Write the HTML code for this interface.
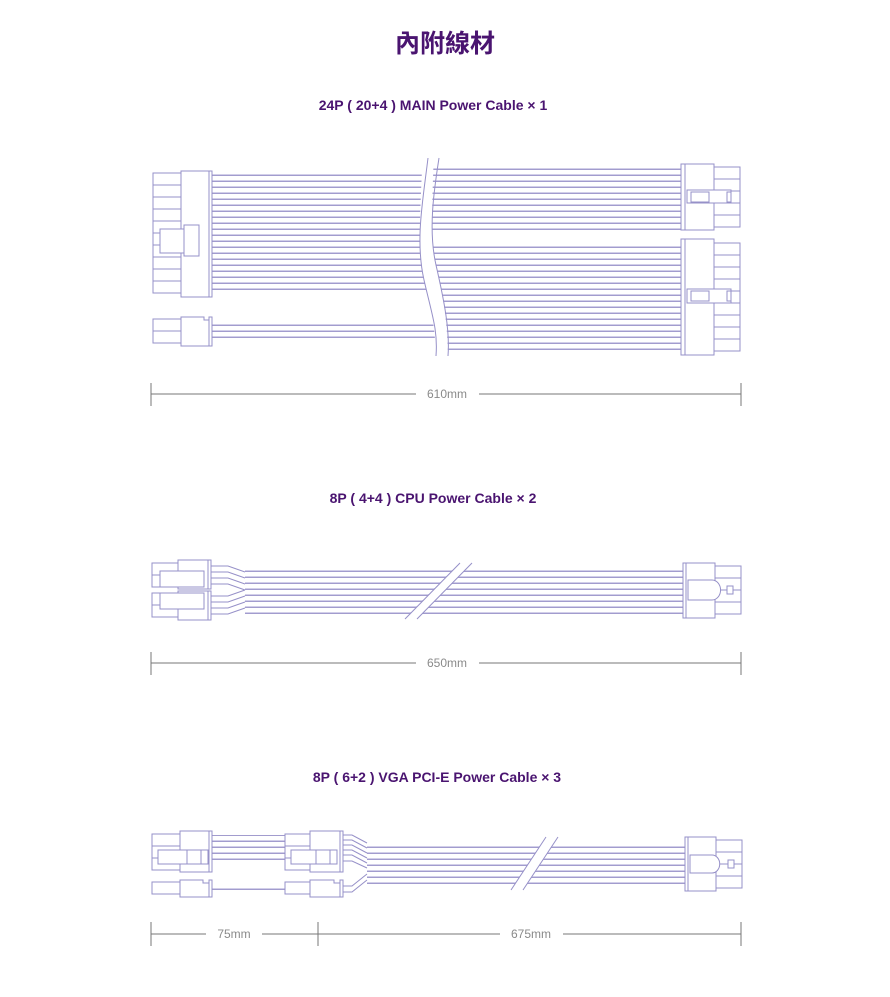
<!DOCTYPE html>
<html><head><meta charset="utf-8"><style>
html,body{margin:0;padding:0;background:#fff;width:890px;height:997px;overflow:hidden}
svg{display:block}
.t{font-family:"Liberation Sans","Noto Sans CJK TC",sans-serif;fill:#4a1470;font-weight:bold;text-anchor:middle}
.d{font-family:"Liberation Sans",sans-serif;fill:#8a8a8a;font-size:12px;text-anchor:middle}
.c{fill:#fff;stroke:#9690c8;stroke-width:1}
.w{stroke:#9690c8;stroke-width:1;fill:none}
.dim{stroke:#777;stroke-width:1}
</style></head><body>
<svg width="890" height="997" viewBox="0 0 890 997" xmlns="http://www.w3.org/2000/svg">
<defs>
<pattern id="wp" width="6" height="6" patternUnits="userSpaceOnUse">
<rect width="6" height="6" fill="#fff"/>
<line x1="0" y1="0.5" x2="6" y2="0.5" stroke="#d2cfe9" stroke-width="1"/>
<line x1="0" y1="1.5" x2="6" y2="1.5" stroke="#a29cce" stroke-width="1"/>
</pattern>
<clipPath id="cl"><path d="M0,0 H428 C423,200 415,240 424,280 C432,315 438,330 436,400 H0 Z"/></clipPath>
<clipPath id="cr"><path d="M890,0 H439 C434,190 428,230 436,265 C444,300 450,330 448,400 H890 Z"/></clipPath>
</defs>
<text class="t" x="445" y="52" font-size="25">內附線材</text>
<text class="t" x="433" y="110" font-size="14">24P ( 20+4 ) MAIN Power Cable × 1</text>
<text class="t" x="433" y="503" font-size="14">8P ( 4+4 ) CPU Power Cable × 2</text>
<text class="t" x="437" y="782" font-size="14">8P ( 6+2 ) VGA PCI-E Power Cable × 3</text>

<!-- 24P wires -->
<g clip-path="url(#cl)">
<rect x="211" y="174" width="230" height="120" fill="url(#wp)"/>
<rect x="211" y="321" width="230" height="21" fill="url(#wp)"/>
</g>
<g clip-path="url(#cr)">
<rect x="420" y="168" width="263" height="62" fill="url(#wp)"/>
<rect x="420" y="243" width="263" height="110" fill="url(#wp)"/>
</g>
<path class="w" d="M428,158 C423,200 415,240 424,280 C432,315 438,330 436,356"/>
<path class="w" d="M439,158 C434,190 428,230 436,265 C444,300 450,330 448,356"/>
<!-- left 24P connector -->
<g class="c">
<rect x="153" y="173" width="28" height="12"/><rect x="153" y="185" width="28" height="12"/><rect x="153" y="197" width="28" height="12"/><rect x="153" y="209" width="28" height="12"/><rect x="153" y="221" width="28" height="12"/><rect x="153" y="233" width="28" height="12"/><rect x="153" y="245" width="28" height="12"/><rect x="153" y="257" width="28" height="12"/><rect x="153" y="269" width="28" height="12"/><rect x="153" y="281" width="28" height="12"/>
<rect x="181" y="171" width="28" height="126"/><rect x="209" y="171" width="3" height="126"/>
<rect x="160" y="229" width="38" height="24"/><rect x="184" y="225" width="15" height="31"/>
<rect x="153" y="319" width="28" height="12"/><rect x="153" y="331" width="28" height="12"/>
<path d="M181,317 H204 V320 H209 V346 H181 Z"/><rect x="209" y="317" width="3" height="29"/>
</g>
<!-- right 24P connectors -->
<g class="c">
<rect x="714" y="167" width="26" height="12"/><rect x="714" y="179" width="26" height="12"/><rect x="714" y="191" width="26" height="12"/><rect x="714" y="203" width="26" height="12"/><rect x="714" y="215" width="26" height="12"/>
<rect x="681" y="164" width="33" height="66"/><rect x="681" y="164" width="4" height="66"/>
<rect x="687" y="190" width="44" height="13"/><rect x="691" y="192" width="18" height="10"/><rect x="727" y="192" width="4" height="10"/>
<rect x="714" y="243" width="26" height="12"/><rect x="714" y="255" width="26" height="12"/><rect x="714" y="267" width="26" height="12"/><rect x="714" y="279" width="26" height="12"/><rect x="714" y="291" width="26" height="12"/><rect x="714" y="303" width="26" height="12"/><rect x="714" y="315" width="26" height="12"/><rect x="714" y="327" width="26" height="12"/><rect x="714" y="339" width="26" height="12"/>
<rect x="681" y="239" width="33" height="116"/><rect x="681" y="239" width="4" height="116"/>
<rect x="687" y="289" width="44" height="14"/><rect x="691" y="291" width="18" height="10"/><rect x="727" y="291" width="4" height="10"/>
</g>
<line class="dim" x1="151" y1="383" x2="151" y2="406"/><line class="dim" x1="741" y1="383" x2="741" y2="406"/>
<line class="dim" x1="151" y1="394" x2="416" y2="394"/><line class="dim" x1="479" y1="394" x2="741" y2="394"/>
<text class="d" x="447" y="398">610mm</text>

<!-- CPU -->
<rect x="245" y="566" width="438" height="48" fill="url(#wp)"/>
<g class="w">
<path d="M210,566 H228 L245,572"/><path d="M210,572 H228 L245,578"/><path d="M210,578 H228 L245,584"/><path d="M210,584 H228 L245,590"/>
<path d="M210,596 H228 L245,590"/><path d="M210,602 H228 L245,596"/><path d="M210,608 H228 L245,602"/><path d="M210,614 H228 L245,608"/>
</g>
<path d="M405,619 L460,563 L472,563 L417,619 Z" fill="#fff"/>
<line class="w" x1="405" y1="619" x2="460" y2="563"/><line class="w" x1="417" y1="619" x2="472" y2="563"/>
<g class="c">
<rect x="152" y="563" width="26" height="12"/><rect x="152" y="575" width="26" height="12"/>
<rect x="178" y="560" width="30" height="29"/><rect x="208" y="560" width="3" height="29"/>
<rect x="160" y="571" width="44" height="16"/>
<rect x="152" y="593" width="26" height="12"/><rect x="152" y="605" width="26" height="12"/>
<rect x="178" y="591" width="30" height="29"/><rect x="208" y="591" width="3" height="29"/>
<rect x="160" y="593" width="44" height="16"/>
<rect x="715" y="566" width="26" height="12"/><rect x="715" y="578" width="26" height="12"/><rect x="715" y="590" width="26" height="12"/><rect x="715" y="602" width="26" height="12"/>
<rect x="683" y="563" width="32" height="55"/><rect x="683" y="563" width="3" height="55"/>
<path d="M688,580 H712 A6,7 0 0 1 712,600 H688 Z"/><rect x="727" y="586" width="6" height="8"/>
</g>
<line class="dim" x1="151" y1="652" x2="151" y2="675"/><line class="dim" x1="741" y1="652" x2="741" y2="675"/>
<line class="dim" x1="151" y1="663" x2="416" y2="663"/><line class="dim" x1="479" y1="663" x2="741" y2="663"/>
<text class="d" x="447" y="667">650mm</text>

<!-- VGA -->
<rect x="211" y="835" width="75" height="27" fill="url(#wp)"/>
<rect x="211" y="884" width="75" height="9" fill="url(#wp)"/>
<rect x="367" y="843" width="318" height="42" fill="url(#wp)"/>
<g class="w">
<path d="M343,835 H352 L367,843"/><path d="M343,840 H352 L367,848"/><path d="M343,845 H352 L367,853"/><path d="M343,850 H352 L367,858"/><path d="M343,855 H352 L367,863"/><path d="M343,861 H352 L367,868"/>
<path d="M343,886 H352 L367,874"/><path d="M343,892 H352 L367,880"/>
</g>
<path d="M511,890 L546,837 L558,837 L523,890 Z" fill="#fff"/>
<line class="w" x1="511" y1="890" x2="546" y2="837"/><line class="w" x1="523" y1="890" x2="558" y2="837"/>
<g class="c">
<rect x="152" y="834" width="28" height="12"/><rect x="152" y="846" width="28" height="12"/><rect x="152" y="858" width="28" height="12"/>
<rect x="180" y="831" width="29" height="41"/><rect x="209" y="831" width="3" height="41"/>
<rect x="158" y="850" width="50" height="14"/><rect x="187" y="850" width="14" height="14"/>
<rect x="152" y="882" width="28" height="12"/>
<path d="M180,880 H203 V883 H209 V897 H180 Z"/><rect x="209" y="880" width="3" height="17"/>
<rect x="285" y="834" width="25" height="12"/><rect x="285" y="846" width="25" height="12"/><rect x="285" y="858" width="25" height="12"/>
<rect x="310" y="831" width="30" height="41"/><rect x="340" y="831" width="3" height="41"/>
<rect x="291" y="850" width="46" height="14"/><rect x="316" y="850" width="14" height="14"/>
<rect x="285" y="882" width="25" height="12"/>
<path d="M310,880 H334 V883 H340 V897 H310 Z"/><rect x="340" y="880" width="3" height="17"/>
<rect x="716" y="840" width="26" height="12"/><rect x="716" y="852" width="26" height="12"/><rect x="716" y="864" width="26" height="12"/><rect x="716" y="876" width="26" height="12"/>
<rect x="685" y="837" width="31" height="54"/><rect x="685" y="837" width="3" height="54"/>
<path d="M690,855 H712 A6,7 0 0 1 712,873 H690 Z"/><rect x="728" y="860" width="6" height="8"/>
</g>
<line class="dim" x1="151" y1="922" x2="151" y2="946"/><line class="dim" x1="318" y1="922" x2="318" y2="946"/><line class="dim" x1="741" y1="922" x2="741" y2="946"/>
<line class="dim" x1="151" y1="934" x2="206" y2="934"/><line class="dim" x1="262" y1="934" x2="318" y2="934"/>
<line class="dim" x1="318" y1="934" x2="500" y2="934"/><line class="dim" x1="563" y1="934" x2="741" y2="934"/>
<text class="d" x="234" y="938">75mm</text>
<text class="d" x="531" y="938">675mm</text>
</svg>
</body></html>
